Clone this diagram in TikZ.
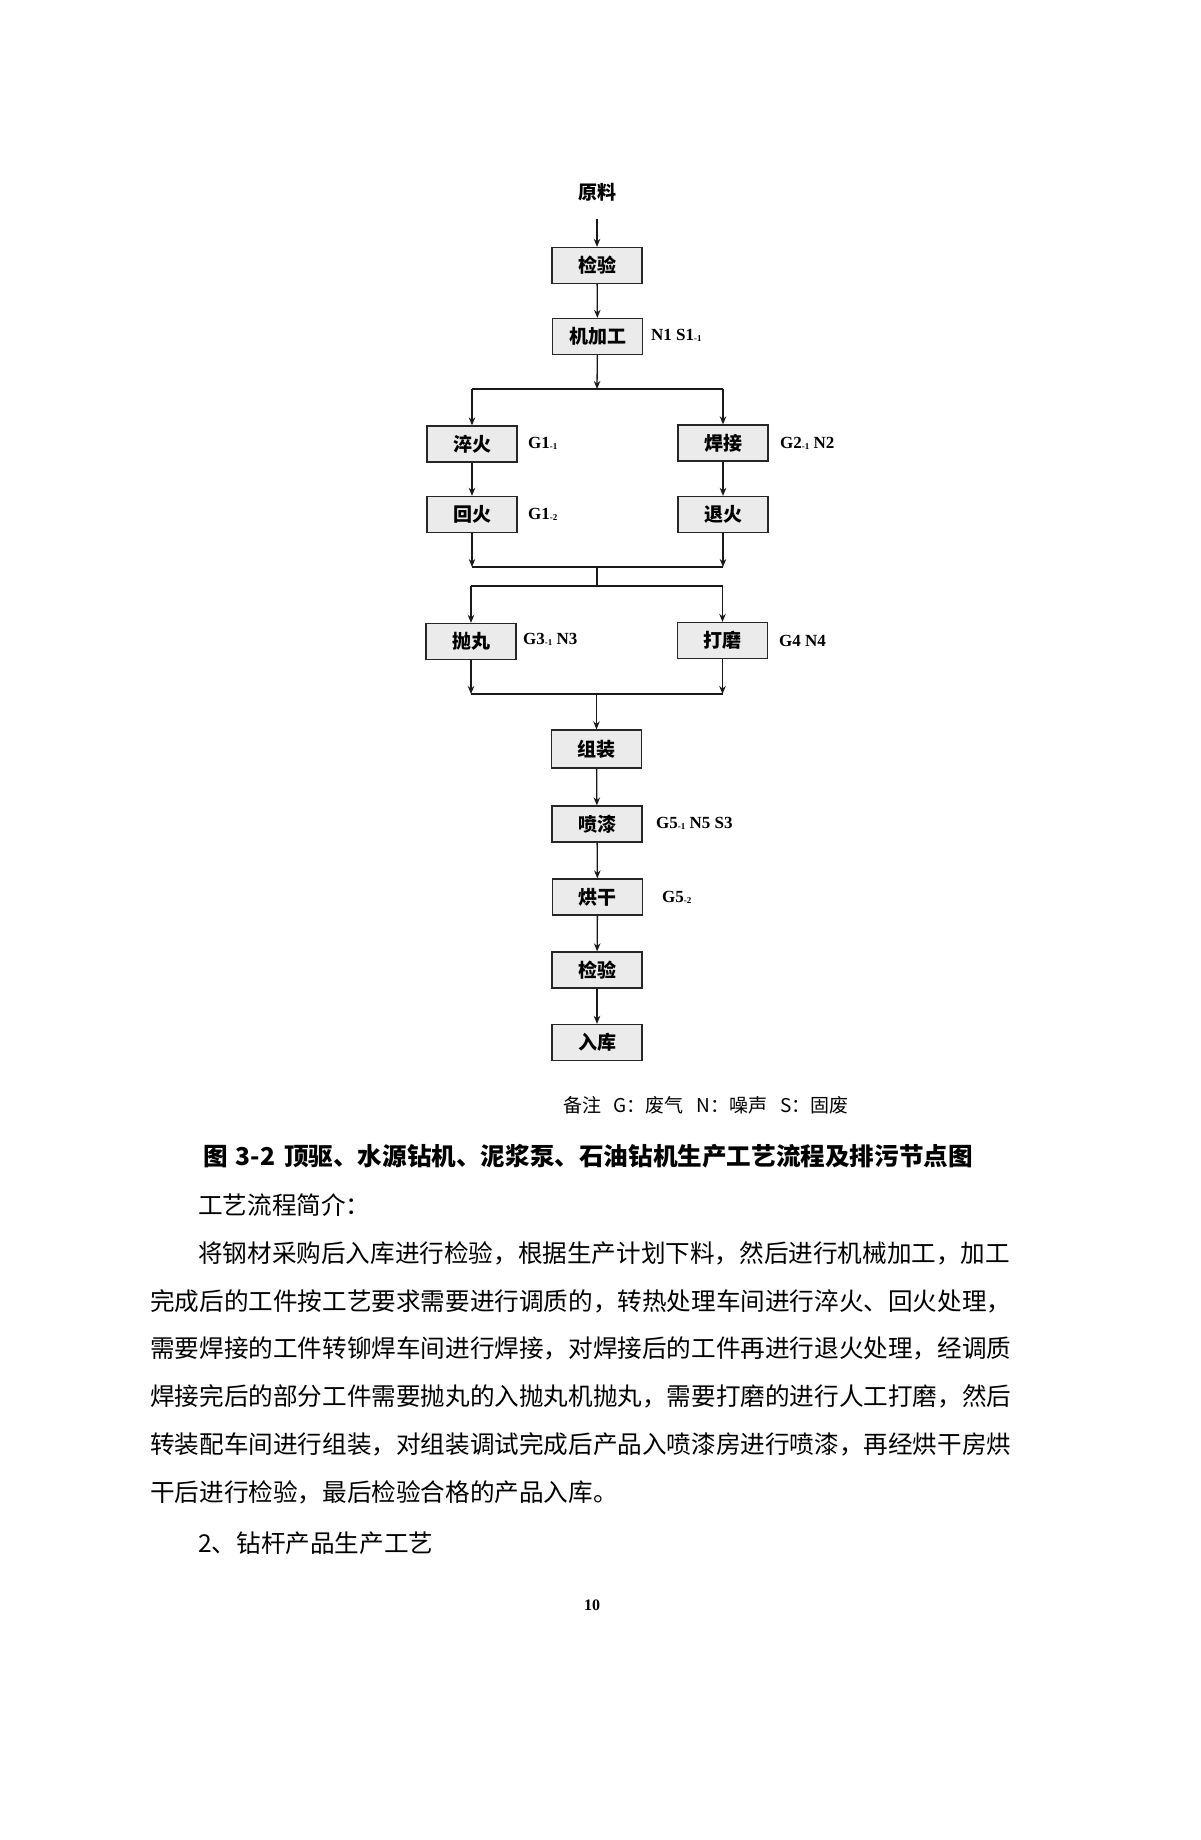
\documentclass[tikz,border=0pt]{standalone}
\usepackage{fontspec}
\setmainfont{Liberation Serif}
\newfontfamily\cjk{Noto Sans CJK SC}
\usetikzlibrary{arrows.meta}
\newcommand\lsub[1]{\raisebox{-1pt}{\fontsize{9}{9}\selectfont #1}}
\tikzset{
  procbox/.style={draw=black!85, line width=1.3pt, fill=black!8, minimum width=90pt, minimum height=36pt, inner sep=0pt,
    font=\cjk\bfseries\fontsize{19}{19}\selectfont},
  emit/.style={anchor=west, inner sep=0pt, font=\bfseries\fontsize{17}{17}\selectfont},
  conn/.style={line width=1.3pt, black!90},
  arr/.style={conn, -{Stealth[length=8pt,width=6.5pt]}},
  bodytext/.style={anchor=west, inner sep=0pt, font=\cjk\fontsize{24.6}{24.6}\selectfont}
}
\begin{document}
\begin{tikzpicture}[x=1pt,y=-1pt]
\path[fill=white] (0,0) rectangle (1200,1840);
\useasboundingbox (0,0) rectangle (1200,1840);

% nodes
\node[inner sep=0pt, font=\cjk\bfseries\fontsize{19}{19}\selectfont] (yl) at (597,192) {原料};
\node[procbox] (jy1) at (597,265.5) {检验};
\node[procbox] (jjg) at (597.5,336.5) {机加工};
\node[procbox] (ch) at (472,444) {淬火};
\node[procbox] (hj) at (723,443) {焊接};
\node[procbox] (hh) at (472,514.5) {回火};
\node[procbox] (th) at (723,514.5) {退火};
\node[procbox] (pw) at (471,641.5) {抛丸};
\node[procbox] (dm) at (722.5,640.5) {打磨};
\node[procbox, minimum height=38pt] (zz) at (596.5,749) {组装};
\node[procbox] (pq) at (597,824) {喷漆};
\node[procbox] (hg) at (597.5,897) {烘干};
\node[procbox] (jy2) at (597,970) {检验};
\node[procbox] (rk) at (597,1042.5) {入库};

% emission labels
\node[emit] (l1) at (651,335) {N1 S1\lsub{-1}};
\node[emit] (l2) at (528,443) {G1\lsub{-1}};
\node[emit] (l3) at (780,443) {G2\lsub{-1} N2};
\node[emit] (l4) at (528,514) {G1\lsub{-2}};
\node[emit] (l5) at (523,639) {G3\lsub{-1} N3};
\node[emit] (l6) at (779,641) {G4 N4};
\node[emit] (l7) at (656,823) {G5\lsub{-1} N5 S3};
\node[emit] (l8) at (662,897) {G5\lsub{-2}};

% junction coordinates
\coordinate (b1) at (597,389);
\coordinate (b1l) at (472,389);
\coordinate (b1r) at (723,389);
\coordinate (m1) at (597,567);
\coordinate (m1l) at (472,567);
\coordinate (m1r) at (723,567);
\coordinate (b2) at (597,586);
\coordinate (b2l) at (471,586);
\coordinate (b2r) at (722.5,586);
\coordinate (m2) at (596.5,694);
\coordinate (m2l) at (471,694);
\coordinate (m2r) at (722.5,694);

% connectors
\draw[arr] ([yshift=-18pt]yl.south) -- (jy1.north);
\draw[arr] (jy1) -- (jjg);
\draw[arr] (jjg) -- (b1);
\draw[conn] (b1l) -- (b1r);
\draw[arr] (b1l) -- (ch.north);
\draw[arr] (b1r) -- (hj.north);
\draw[arr] (ch) -- (hh);
\draw[arr] (hj) -- (th);
\draw[arr] (hh) -- (m1l);
\draw[arr] (th) -- (m1r);
\draw[conn] (m1l) -- (m1r);
\draw[conn] (m1) -- (b2);
\draw[conn] (b2l) -- (b2r);
\draw[arr] (b2l) -- (pw.north);
\draw[arr] (b2r) -- (dm.north);
\draw[arr] (pw) -- (m2l);
\draw[arr] (dm) -- (m2r);
\draw[conn] (m2l) -- (m2r);
\draw[arr] (m2) -- (zz.north);
\draw[arr] (zz) -- (pq);
\draw[arr] (pq) -- (hg);
\draw[arr] (hg) -- (jy2);
\draw[arr] (jy2) -- (rk);

% notes and text
\node[anchor=west, inner sep=0pt, font=\cjk\fontsize{19}{19}\selectfont] (note) at (563,1105) {备注\hspace{12pt}G：废气\hspace{13pt}N：噪声\hspace{13pt}S：固废};
\node[anchor=west, inner sep=0pt, font=\cjk\bfseries\fontsize{24.6}{24.6}\selectfont] (cap) at (203,1156) {图\hspace{8pt}3-2\hspace{9pt}顶驱、水源钻机、泥浆泵、石油钻机生产工艺流程及排污节点图};
\node[bodytext] (t0) at (198,1205) {工艺流程简介：};
\node[bodytext] (t1) at (198,1253) {将钢材采购后入库进行检验，根据生产计划下料，然后进行机械加工，加工};
\node[bodytext] (t2) at (150,1301) {完成后的工件按工艺要求需要进行调质的，转热处理车间进行淬火、回火处理，};
\node[bodytext] (t3) at (150,1348) {需要焊接的工件转铆焊车间进行焊接，对焊接后的工件再进行退火处理，经调质};
\node[bodytext] (t4) at (150,1396) {焊接完后的部分工件需要抛丸的入抛丸机抛丸，需要打磨的进行人工打磨，然后};
\node[bodytext] (t5) at (150,1444) {转装配车间进行组装，对组装调试完成后产品入喷漆房进行喷漆，再经烘干房烘};
\node[bodytext] (t6) at (150,1492) {干后进行检验，最后检验合格的产品入库。};
\node[bodytext] (t7) at (198,1543) {2、钻杆产品生产工艺};
\node[inner sep=0pt, font=\bfseries\fontsize{16}{16}\selectfont] (pg) at (592,1605) {10};
\end{tikzpicture}
\end{document}
